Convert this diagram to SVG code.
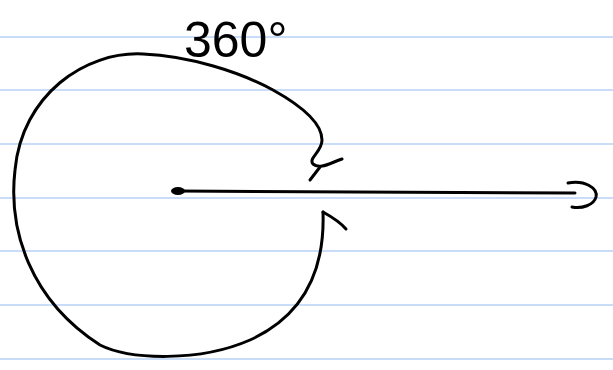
<svg xmlns="http://www.w3.org/2000/svg" width="613" height="370" viewBox="0 0 613 370">
<style>
.rule{stroke:#c9dcf8;stroke-width:2;fill:none}
.ink{stroke:#000;stroke-width:3;fill:none;stroke-linecap:round;stroke-linejoin:round}
.label{font-family:"Liberation Sans",Arial,sans-serif;font-size:50px;fill:#000}
</style>
<rect width="613" height="370" fill="#fff"/>
<g id="paper">
<line class="rule" x1="0" y1="37" x2="613" y2="37"/>
<line class="rule" x1="0" y1="90" x2="613" y2="90"/>
<line class="rule" x1="0" y1="144" x2="613" y2="144"/>
<line class="rule" x1="0" y1="198" x2="613" y2="198"/>
<line class="rule" x1="0" y1="251" x2="613" y2="251"/>
<line class="rule" x1="0" y1="305" x2="613" y2="305"/>
<line class="rule" x1="0" y1="359" x2="613" y2="359"/>
</g>
<g id="angle-arc">
<path class="ink" d="M 342 159 C 330 163, 320 170, 313 164 C 308 158, 322 152, 322 140 C 322 122, 300 105, 273 90 C 240 72, 190 56, 143 54 C 85 51, 22 95, 15 170 C 8 230, 30 300, 100 345 C 130 360, 200 362, 250 340 C 305 315, 325 270, 323 212"/>
<path class="ink" d="M 320 167 L 310 180"/>
<path class="ink" d="M 323 212 C 332 217, 340 222, 346 229"/>
</g>
<g id="ray">
<ellipse cx="178" cy="191" rx="7" ry="4" fill="#000"/>
<path class="ink" d="M 178 191 L 575 193"/>
<path class="ink" d="M 568 183 C 585 180, 598 188, 596 197 C 594 205, 582 209, 572 207"/>
</g>
<g id="label">
<text class="label" x="184" y="57">360°</text>
</g>
</svg>
